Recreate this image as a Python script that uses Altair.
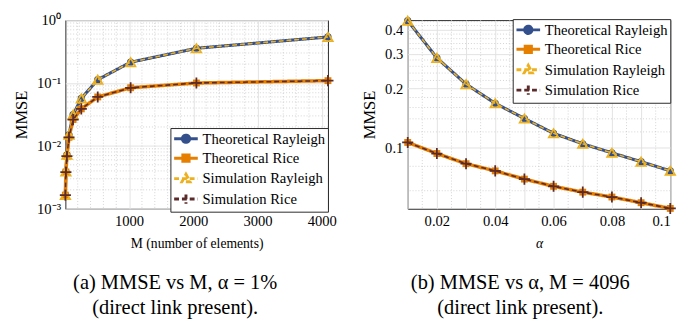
import altair as alt
import pandas as pd

# ---------------- data ----------------
M = [8, 16, 32, 64, 128, 256, 512, 1024, 2048, 4096]
mmse_M_ray_theo = [0.00165, 0.0039, 0.0072, 0.0150, 0.0313, 0.0568, 0.113, 0.214, 0.356, 0.54]
mmse_M_rice_theo = [0.00165, 0.00384, 0.00686, 0.0137, 0.0262, 0.0388, 0.060, 0.084, 0.100, 0.109]
mmse_M_ray_sim = [0.00165, 0.0039, 0.0072, 0.0150, 0.0313, 0.0568, 0.113, 0.214, 0.356, 0.54]
mmse_M_rice_sim = [0.00165, 0.00384, 0.00686, 0.0137, 0.0262, 0.0388, 0.060, 0.084, 0.100, 0.109]

alpha = [0.01, 0.02, 0.03, 0.04, 0.05, 0.06, 0.07, 0.08, 0.09, 0.10]
mmse_a_ray_theo = [0.445, 0.287, 0.2106, 0.168, 0.1405, 0.118, 0.1043, 0.0937, 0.0845, 0.0758]
mmse_a_rice_theo = [0.106, 0.093, 0.0825, 0.0758, 0.0688, 0.0632, 0.059, 0.0557, 0.0521, 0.0487]
mmse_a_ray_sim = [0.445, 0.287, 0.2106, 0.168, 0.1405, 0.118, 0.1043, 0.0937, 0.0845, 0.0758]
mmse_a_rice_sim = [0.106, 0.093, 0.0825, 0.0758, 0.0688, 0.0632, 0.059, 0.0557, 0.0521, 0.0487]

series = ["Theoretical Rayleigh", "Theoretical Rice", "Simulation Rayleigh", "Simulation Rice"]

left_x_ticks = [1000, 2000, 3000, 4000]
left_x_minor = [v for v in range(200, 4096, 200) if v % 1000 != 0]
left_y_ticks = [0.001, 0.01, 0.1, 1.0]
left_y_minor = [m * 10.0 ** e for e in (-3, -2, -1) for m in range(2, 10)]

right_x_grid = [0.01, 0.02, 0.03, 0.04, 0.05, 0.06, 0.07, 0.08, 0.09, 0.10]
right_x_minor = [0.015, 0.025, 0.035, 0.045, 0.055, 0.065, 0.075, 0.085, 0.095]
right_y_ticks = [0.1, 0.2, 0.3, 0.4]
right_y_minor = [0.06, 0.08, 0.12, 0.14, 0.16, 0.18, 0.22, 0.24, 0.26, 0.28,
                 0.32, 0.34, 0.36, 0.38, 0.42, 0.44]

# ---------------- styles ----------------
FONT = "Liberation Serif"
TXT = "#262626"
colors = ["#34508C", "#E67E00", "#EDB120", "#5B2A2A"]
widths = [3.2, 3.6, 1.6, 1.6]
dashes = [[1, 0], [1, 0], [5, 3], [5, 3]]
fills = ["#34508C", "#E67E00", "transparent", "transparent"]
plot_shapes = ["circle", "square", "triangle-up", "M-1,0H1M0,-1V1"]
plot_sizes = [55, 50, 95, 130]
plot_filled = [True, True, False, False]
legend_shapes = [
    "M-1.62,0H1.62M0.5,0A0.5,0.5 0 1,1 -0.5,0A0.5,0.5 0 1,1 0.5,0Z",
    "M-1.62,0H1.62M-0.43,-0.43H0.43V0.43H-0.43Z",
    "M-1.62,0H1.62M0,-0.6L0.55,0.43H-0.55Z",
    "M-1.62,0H1.62M0,-0.63V0.63",
]

W, H = 270, 194


def make_df(x, ys):
    rows = []
    for name, yv in zip(series, ys):
        for xi, yi in zip(x, yv):
            rows.append({"x": xi, "y": yi, "series": name})
    return pd.DataFrame(rows)


def panel(df, xscale, yscale, xaxis, yaxis, xminor, yminor, legx, legy, caption):
    layers = []
    layers.append(
        alt.Chart(pd.DataFrame({"v": xminor}))
        .mark_rule(color="#c8c8c8", strokeWidth=0.8, strokeDash=[1, 2])
        .encode(x=alt.X("v:Q", scale=xscale, axis=xaxis))
    )
    layers.append(
        alt.Chart(pd.DataFrame({"v": yminor}))
        .mark_rule(color="#c8c8c8", strokeWidth=0.8, strokeDash=[1, 2])
        .encode(y=alt.Y("v:Q", scale=yscale, axis=yaxis))
    )
    for i, name in enumerate(series):
        base = alt.Chart(df).transform_filter(alt.datum.series == name)
        enc = dict(
            x=alt.X("x:Q", scale=xscale, axis=xaxis),
            y=alt.Y("y:Q", scale=yscale, axis=yaxis),
        )
        layers.append(
            base.mark_line(color=colors[i], strokeWidth=widths[i], strokeDash=dashes[i], clip=False)
            .encode(**enc)
        )
        if plot_filled[i]:
            pm = base.mark_point(shape=plot_shapes[i], size=plot_sizes[i], filled=True,
                                 color=colors[i], opacity=1, clip=False)
        else:
            pm = base.mark_point(shape=plot_shapes[i], size=plot_sizes[i], filled=False,
                                 color=colors[i], strokeWidth=1.8, opacity=1, clip=False)
        layers.append(pm.encode(**enc))
    # legend-only layer (no visible data)
    leg = alt.Legend(title=None, orient="none", legendX=legx, legendY=legy)
    layers.append(
        alt.Chart(pd.DataFrame({"series": series}))
        .transform_filter("false")
        .mark_point(opacity=1)
        .encode(
            stroke=alt.Stroke("series:N", scale=alt.Scale(domain=series, range=colors), legend=leg),
            fill=alt.Fill("series:N", scale=alt.Scale(domain=series, range=fills), legend=leg),
            shape=alt.Shape("series:N", scale=alt.Scale(domain=series, range=legend_shapes), legend=leg),
            strokeDash=alt.StrokeDash("series:N", scale=alt.Scale(domain=series, range=dashes), legend=leg),
            strokeWidth=alt.StrokeWidth("series:N", scale=alt.Scale(domain=series, range=[3, 3, 1.6, 1.6]), legend=leg),
        )
    )
    return alt.layer(*layers).properties(
        width=W, height=H,
        title=alt.TitleParams(
            text=caption, orient="bottom", anchor="middle", frame="bounds",
            fontSize=21, fontWeight="normal", font=FONT, lineHeight=26,
            offset=22, color="black",
        ),
    )


axis_common = dict(
    grid=True, gridColor="#e2e2e2", gridWidth=1, domain=False, ticks=False,
    labelFont=FONT, labelFontSize=15, labelColor="black", labelPadding=5,
    titleFont=FONT, titleFontWeight="normal", titleColor="black",
)

# left panel
df_left = make_df(M, [mmse_M_ray_theo, mmse_M_rice_theo, mmse_M_ray_sim, mmse_M_rice_sim])
lx_scale = alt.Scale(domain=[8, 4096], nice=False, zero=False)
ly_scale = alt.Scale(type="log", domain=[0.001, 1.0], nice=False)
lx_axis = alt.Axis(values=left_x_ticks, format="d", title="M (number of elements)",
                   titleFontSize=14, titlePadding=9, **axis_common)
ly_axis = alt.Axis(
    values=left_y_ticks, title="MMSE", titleFontSize=17, titlePadding=6,
    labelExpr="datum.value >= 0.5 ? '10⁰' : datum.value >= 0.05 ? '10⁻¹' : datum.value >= 0.005 ? '10⁻²' : '10⁻³'",
    **axis_common,
)
left = panel(df_left, lx_scale, ly_scale, lx_axis, ly_axis, left_x_minor, left_y_minor,
             108, 111, ["(a) MMSE vs M, α = 1%", "(direct link present)."])

# right panel
df_right = make_df(alpha, [mmse_a_ray_theo, mmse_a_rice_theo, mmse_a_ray_sim, mmse_a_rice_sim])
rx_scale = alt.Scale(domain=[0.01, 0.1], nice=False, zero=False)
ry_scale = alt.Scale(type="log", domain=[0.0485, 0.448], nice=False)
rx_axis = alt.Axis(
    values=right_x_grid, title="α", titleFontSize=14, titleFontStyle="italic", titlePadding=9,
    labelExpr="round(datum.value*100) % 2 == 0 ? (round(datum.value*100) == 10 ? '0.1' : format(datum.value, '.2f')) : ''",
    **axis_common,
)
ry_axis = alt.Axis(values=right_y_ticks, format=".1f", title="MMSE", titleFontSize=17,
                   titlePadding=6, **axis_common)
right = panel(df_right, rx_scale, ry_scale, rx_axis, ry_axis, right_x_minor, right_y_minor,
              108, -1, ["(b) MMSE vs α, M = 4096", "(direct link present)."])

chart = (
    alt.hconcat(left, right, spacing=23)
    .resolve_scale(x="independent", y="independent", stroke="independent", fill="independent",
                   shape="independent", strokeDash="independent", strokeWidth="independent")
    .resolve_legend(stroke="independent", fill="independent", shape="independent",
                    strokeDash="independent", strokeWidth="independent")
    .properties(padding={"left": 5, "top": 0, "right": 0, "bottom": 0}, background="white")
    .configure_view(stroke=TXT, strokeWidth=1)
    .configure_axis(labelFont=FONT, titleFont=FONT)
    .configure_legend(
        fillColor="white", strokeColor=TXT, padding=2, rowPadding=0,
        labelFont=FONT, labelFontSize=15, labelColor="black", labelOffset=8,
        symbolSize=225, symbolOffset=5, labelLimit=300,
    )
)

chart.save("out.html", embed_options={"renderer": "svg", "actions": False})
